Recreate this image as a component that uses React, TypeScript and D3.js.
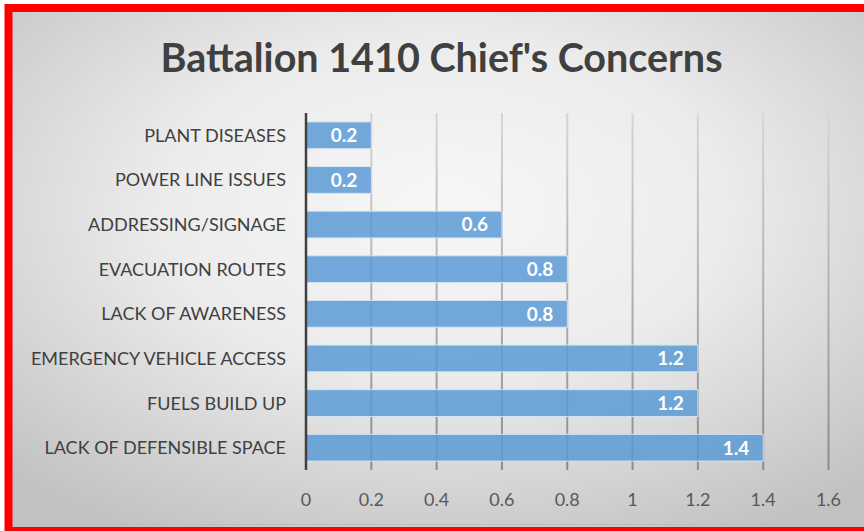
import React from 'react'
import * as d3 from 'd3'

const categories = [
  'PLANT DISEASES',
  'POWER LINE ISSUES',
  'ADDRESSING/SIGNAGE',
  'EVACUATION ROUTES',
  'LACK OF AWARENESS',
  'EMERGENCY VEHICLE ACCESS',
  'FUELS BUILD UP',
  'LACK OF DEFENSIBLE SPACE',
]
const values = [0.2, 0.2, 0.6, 0.8, 0.8, 1.2, 1.2, 1.4]
const ticks = [0, 0.2, 0.4, 0.6, 0.8, 1, 1.2, 1.4, 1.6]
const title = "Battalion 1410 Chief's Concerns"

const W = 864
const H = 531
const FONT = 'Lato, "Open Sans", sans-serif'

export default function App() {
  const x = d3.scaleLinear().domain([0, 1.6]).range([306, 828.5])
  const y = d3.scaleBand<string>().domain(categories).range([113, 470]).paddingInner(0.4).paddingOuter(0.2)

  return (
    <svg width={W} height={H} style={{ position: 'absolute', left: 0, top: 0 }}>
      <defs>
        <radialGradient id="bg" cx="50%" cy="38%" r="72%">
          <stop offset="0" stopColor="#f7f7f7" />
          <stop offset="0.45" stopColor="#ececec" />
          <stop offset="1" stopColor="#c2c2c2" />
        </radialGradient>
        <linearGradient id="grid" gradientUnits="userSpaceOnUse" x1="0" y1="113" x2="0" y2="470">
          <stop offset="0" stopColor="#d6d6d6" />
          <stop offset="1" stopColor="#8c8c8c" />
        </linearGradient>
      </defs>
      <rect x={0} y={0} width={W} height={H} fill="#fff" />
      <rect x={12} y={12} width={W} height={515} fill="url(#bg)" />
      <line x1={12} x2={W} y1={524.5} y2={524.5} stroke="#bdbdbd" strokeWidth={1} />
      <rect x={8.5} y={8} width={W + 20} height={523} fill="none" stroke="#ff0000" strokeWidth={8} />

      <text x={441.5} y={72} textAnchor="middle" fontFamily={FONT} fontWeight="bold" fontSize={39.5} fill="#404040">
        {title}
      </text>

      {ticks.slice(1).map(t => (
        <line key={t} x1={x(t)} x2={x(t)} y1={113} y2={470} stroke="url(#grid)" strokeWidth={2} />
      ))}

      {categories.map((c, i) => (
        <g key={c}>
          <rect
            x={x(0)}
            y={y(c)!}
            width={x(values[i]) - x(0)}
            height={y.bandwidth()}
            fill="#5b9bd5"
            fillOpacity={0.85}
            stroke="#d5e4f3"
            strokeWidth={1}
          />
          <text
            x={x(values[i]) - 14}
            y={y(c)! + y.bandwidth() / 2}
            dy="0.36em"
            textAnchor="end"
            fontFamily={FONT}
            fontWeight="bold"
            fontSize={19}
            fill="#fff"
          >
            {values[i]}
          </text>
          <text
            x={286}
            y={y(c)! + y.bandwidth() / 2}
            dy="0.36em"
            textAnchor="end"
            fontFamily={FONT}
            fontSize={18}
            fill="#404040"
          >
            {c}
          </text>
        </g>
      ))}

      <line x1={x(0)} x2={x(0)} y1={113} y2={470} stroke="#404040" strokeWidth={2.5} />

      {ticks.map(t => (
        <text key={t} x={x(t)} y={500} dy="0.36em" textAnchor="middle" fontFamily={FONT} fontSize={18} fill="#595959">
          {t}
        </text>
      ))}
    </svg>
  )
}
